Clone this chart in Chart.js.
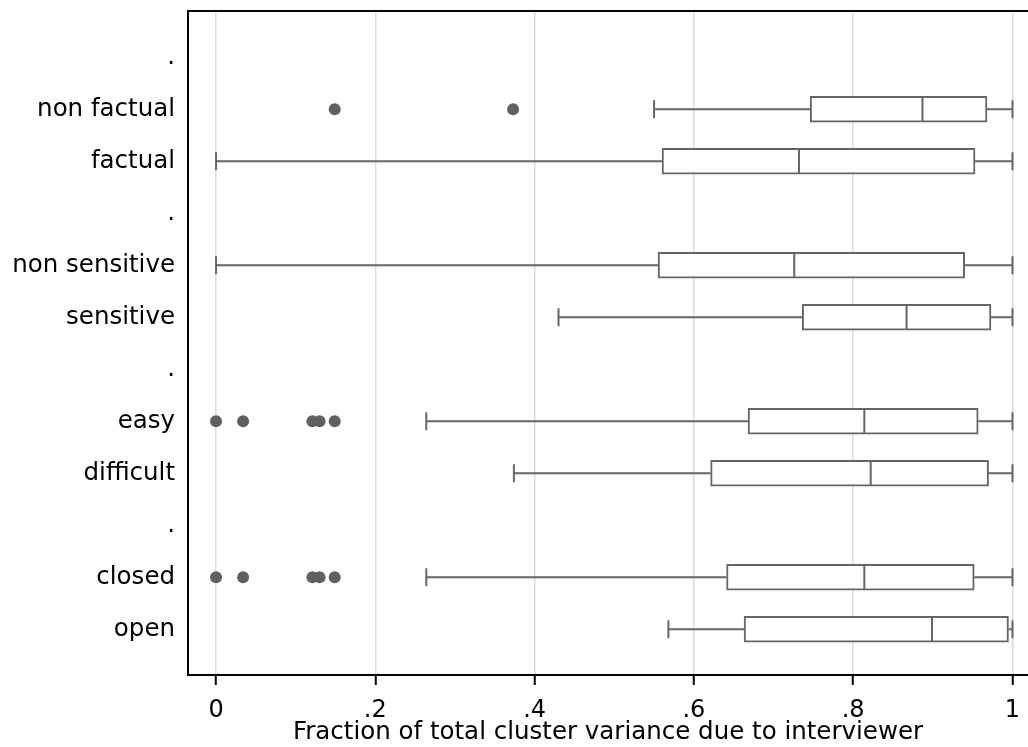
<!DOCTYPE html>
<html>
<head>
<meta charset="utf-8">
<script src="https://cdn.jsdelivr.net/npm/chart.js@4/dist/chart.umd.min.js"></script>
<style>
  html, body { margin: 0; padding: 0; background: #fff; }
  #wrap { width: 1028px; height: 747px; }
</style>
</head>
<body>
<div id="wrap"><canvas id="boxChart"></canvas></div>
<script>
'use strict';

// rows of the y axis, top to bottom ('.' are the empty separator rows)
var rowLabels = ['.', 'non factual', 'factual', '.', 'non sensitive', 'sensitive', '.', 'easy', 'difficult', '.', 'closed', 'open'];

// one box per group
var boxRows   = [1, 2, 4, 5, 7, 8, 10, 11];
var lowWhisk  = [0.550, 0.000, 0.000, 0.430, 0.264, 0.374, 0.264, 0.568];
var q1        = [0.746, 0.560, 0.555, 0.736, 0.668, 0.621, 0.641, 0.663];
var medians   = [0.887, 0.732, 0.726, 0.867, 0.814, 0.822, 0.814, 0.899];
var q3        = [0.968, 0.953, 0.940, 0.973, 0.957, 0.970, 0.952, 0.995];
var highWhisk = [1.000, 1.000, 1.000, 1.000, 1.000, 1.000, 1.000, 1.000];

// outside values
var outlierRows   = [1, 1, 7, 7, 7, 7, 7, 10, 10, 10, 10, 10];
var outlierValues = [0.149, 0.373, 0.000, 0.034, 0.121, 0.130, 0.149, 0.000, 0.034, 0.121, 0.130, 0.149];

var xTicks = [0, 0.2, 0.4, 0.6, 0.8, 1];
var xTickText = ['0', '.2', '.4', '.6', '.8', '1'];

var lineGrey = '#666666';
var fontFamily = '"DejaVu Sans", "Liberation Sans", Arial, sans-serif';

var boxData = boxRows.map(function (r, i) {
  return { x: [q1[i], q3[i]], y: r };
});
var outlierData = outlierRows.map(function (r, i) {
  return { x: outlierValues[i], y: r };
});

function noScalePadding(scale) {
  scale.paddingTop = 0;
  scale.paddingBottom = 0;
  scale.paddingLeft = 0;
  scale.paddingRight = 0;
}

// whiskers, caps and medians, placed with the chart's scales
var whiskerPlugin = {
  id: 'whiskers',
  afterDatasetsDraw: function (chart) {
    var ctx = chart.ctx;
    var xs = chart.scales.x;
    var ys = chart.scales.y;
    ctx.save();
    ctx.strokeStyle = lineGrey;
    ctx.lineWidth = 2;
    boxRows.forEach(function (r, i) {
      var y = ys.getPixelForValue(r);
      var xl = xs.getPixelForValue(lowWhisk[i]);
      var x1 = xs.getPixelForValue(q1[i]);
      var xm = xs.getPixelForValue(medians[i]);
      var x3 = xs.getPixelForValue(q3[i]);
      var xh = xs.getPixelForValue(highWhisk[i]);
      ctx.beginPath();
      ctx.moveTo(xl, y); ctx.lineTo(x1, y);
      ctx.moveTo(x3, y); ctx.lineTo(xh, y);
      ctx.moveTo(xl, y - 9); ctx.lineTo(xl, y + 9);
      ctx.moveTo(xh, y - 9); ctx.lineTo(xh, y + 9);
      ctx.moveTo(xm, y - 12.5); ctx.lineTo(xm, y + 12.5);
      ctx.stroke();
    });
    // top frame line
    var a = chart.chartArea;
    ctx.strokeStyle = '#000';
    ctx.lineWidth = 2;
    ctx.beginPath();
    ctx.moveTo(a.left - 1, a.top);
    ctx.lineTo(chart.width, a.top);
    ctx.stroke();
    ctx.restore();
  }
};

var boxChart = new Chart(document.getElementById('boxChart'), {
  type: 'bar',
  data: {
    datasets: [
      {
        type: 'bar',
        indexAxis: 'y',
        data: boxData,
        backgroundColor: '#ffffff',
        borderColor: lineGrey,
        borderWidth: 2,
        borderSkipped: false,
        barThickness: 26,
        order: 2
      },
      {
        type: 'scatter',
        data: outlierData,
        pointRadius: 6,
        pointHoverRadius: 6,
        backgroundColor: '#606060',
        borderWidth: 0,
        order: 1
      }
    ]
  },
  options: {
    indexAxis: 'y',
    responsive: true,
    maintainAspectRatio: false,
    animation: false,
    layout: { autoPadding: false, padding: { top: 11, right: 0, left: 0, bottom: 0 } },
    plugins: {
      legend: { display: false },
      tooltip: { enabled: false }
    },
    scales: {
      x: {
        type: 'linear',
        position: 'bottom',
        min: -0.0352,
        max: 1.0195,
        afterBuildTicks: function (scale) {
          scale.ticks = xTicks.map(function (v) { return { value: v }; });
        },
        afterFit: function (scale) {
          scale.height = 72;
          noScalePadding(scale);
        },
        ticks: {
          color: '#000',
          padding: 11,
          font: { family: fontFamily, size: 24 },
          maxRotation: 0,
          callback: function (v) {
            var k = xTicks.indexOf(v);
            return k >= 0 ? xTickText[k] : '';
          }
        },
        grid: {
          color: '#dcdcdc',
          lineWidth: 1.5,
          tickLength: 10,
          tickColor: '#000',
          tickWidth: 2
        },
        border: { color: '#000', width: 2 },
        title: {
          display: true,
          text: 'Fraction of total cluster variance due to interviewer',
          color: '#000',
          font: { family: fontFamily, size: 24.5 },
          padding: { top: 0, bottom: 0 }
        }
      },
      y: {
        type: 'linear',
        position: 'left',
        reverse: true,
        offset: false,
        min: -0.89,
        max: 11.88,
        afterBuildTicks: function (scale) {
          scale.ticks = rowLabels.map(function (l, i) { return { value: i }; });
        },
        afterFit: function (scale) {
          scale.width = 188;
          noScalePadding(scale);
        },
        ticks: {
          color: '#000',
          padding: 13,
          font: { family: fontFamily, size: 24.5 },
          callback: function (v) { return rowLabels[v]; }
        },
        grid: { display: false, drawTicks: false },
        border: { color: '#000', width: 2 }
      }
    }
  },
  plugins: [whiskerPlugin]
});
</script>
</body>
</html>
